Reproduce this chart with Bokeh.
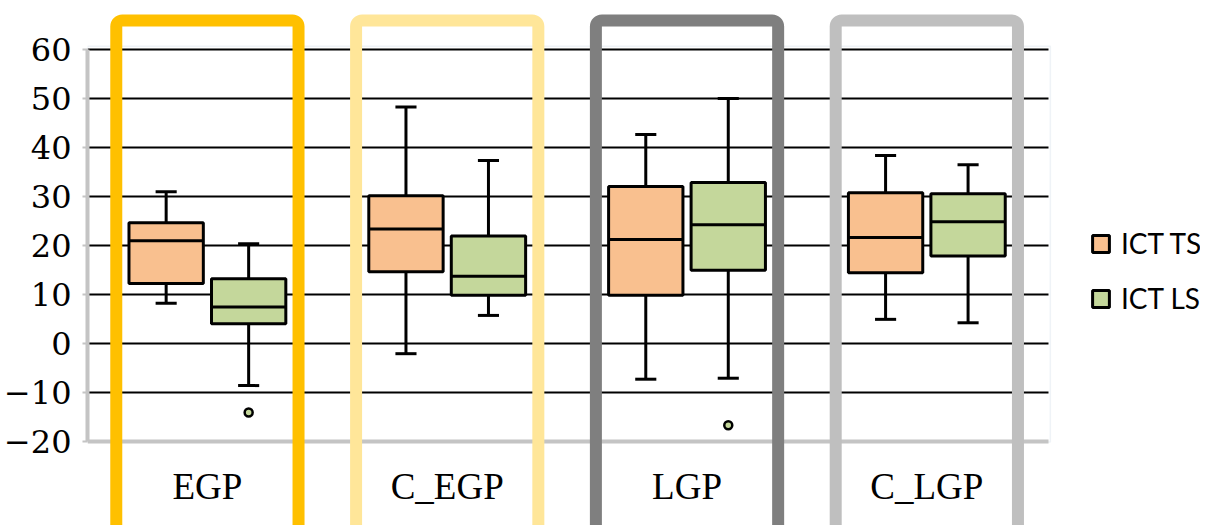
from bokeh.plotting import figure
from bokeh.models import (Range1d, ColumnDataSource, FixedTicker,
                          BoxAnnotation, Legend, LegendItem)
from bokeh.transform import dodge
from bokeh.embed import file_html
from bokeh.resources import INLINE

# ---- data ----
categories = ["EGP", "C_EGP", "LGP", "C_LGP"]
series_names = ["ICT TS", "ICT LS"]

ts_whisker_high = [31.0, 48.3, 42.7, 38.4]
ts_q3 = [24.7, 30.2, 32.1, 30.8]
ts_median = [21.0, 23.4, 21.3, 21.7]
ts_q1 = [12.3, 14.7, 9.9, 14.5]
ts_whisker_low = [8.3, -2.0, -7.2, 5.0]

ls_whisker_high = [20.4, 37.4, 50.0, 36.5]
ls_q3 = [13.3, 22.0, 32.9, 30.6]
ls_median = [7.5, 13.8, 24.3, 24.9]
ls_q1 = [4.1, 9.9, 15.0, 17.9]
ls_whisker_low = [-8.5, 5.8, -7.0, 4.3]

ls_outlier_cats = ["EGP", "LGP"]
ls_outlier_vals = [-14.0, -16.6]

y_ticks = [-20, -10, 0, 10, 20, 30, 40, 50, 60]
highlight_colors = ["#FFC000", "#FFE699", "#7F7F7F", "#BFBFBF"]
series_colors = ["#F9C08F", "#C4D79B"]

# categorical slots: category i is centred at i + 0.5
cat_pos = {c: i + 0.5 for i, c in enumerate(categories)}
n_cat = len(categories)

# ---- figure ----
p = figure(x_range=Range1d(0, 4.6412), y_range=Range1d(-37.02, 69.99),
           width=1200, height=525, output_backend="svg", toolbar_location=None,
           min_border_left=78, min_border_right=0, min_border_top=0,
           min_border_bottom=0)
p.background_fill_color = "white"
p.border_fill_color = "white"
p.outline_line_color = None

p.xgrid.grid_line_color = None
p.ygrid.ticker = FixedTicker(ticks=[t for t in y_ticks if t > -20])
p.ygrid.grid_line_color = "black"
p.ygrid.grid_line_width = 2
p.ygrid.cross_bounds = (0, n_cat + 0.008)

p.yaxis.ticker = FixedTicker(ticks=y_ticks)
p.yaxis.bounds = (-20, 60)
p.yaxis.axis_line_color = "#C4C4C4"
p.yaxis.axis_line_width = 4
p.yaxis.major_tick_line_color = "#C4C4C4"
p.yaxis.major_tick_line_width = 2
p.yaxis.major_tick_out = 5
p.yaxis.major_tick_in = 0
p.yaxis.minor_tick_line_color = None
p.yaxis.major_label_text_font = "DejaVu Serif"
p.yaxis.major_label_text_font_size = "32px"
p.yaxis.major_label_text_color = "black"
p.yaxis.major_label_standoff = 11

p.xaxis.fixed_location = -20
p.xaxis.bounds = (0, n_cat + 0.008)
p.xaxis.ticker = FixedTicker(ticks=list(cat_pos.values()))
p.xaxis.major_label_overrides = {v: k for k, v in cat_pos.items()}
p.xaxis.axis_line_color = "#C4C4C4"
p.xaxis.axis_line_width = 4
p.xaxis.major_tick_line_color = None
p.xaxis.minor_tick_line_color = None
p.xaxis.major_tick_out = 0
p.xaxis.major_label_text_font = "Liberation Serif"
p.xaxis.major_label_text_font_size = "37px"
p.xaxis.major_label_text_color = "black"
p.xaxis.major_label_standoff = 24

# thin plot-area border
p.add_layout(BoxAnnotation(left=0, right=n_cat + 0.015, bottom=-20, top=60.67, fill_alpha=0,
                           line_color="#C9D6E6", line_width=1.5, level="underlay"))

box_w = 0.31
cap_w = 0.088
offsets = [-0.172, 0.172]

series_data = [
    (ts_whisker_high, ts_q3, ts_median, ts_q1, ts_whisker_low),
    (ls_whisker_high, ls_q3, ls_median, ls_q1, ls_whisker_low),
]

box_renderers = []
for (whi, q3, med, q1, wlo), off, color in zip(series_data, offsets, series_colors):
    src = ColumnDataSource(dict(cat=categories, x=[cat_pos[c] for c in categories],
                                whi=whi, q3=q3, med=med, q1=q1, wlo=wlo))
    xc = dodge("x", off)
    xl = dodge("x", off - cap_w / 2)
    xr = dodge("x", off + cap_w / 2)
    bl = dodge("x", off - box_w / 2)
    br = dodge("x", off + box_w / 2)
    p.segment(x0=xc, y0="q3", x1=xc, y1="whi", source=src, line_color="black", line_width=3)
    p.segment(x0=xc, y0="q1", x1=xc, y1="wlo", source=src, line_color="black", line_width=3)
    p.segment(x0=xl, y0="whi", x1=xr, y1="whi", source=src, line_color="black", line_width=3)
    p.segment(x0=xl, y0="wlo", x1=xr, y1="wlo", source=src, line_color="black", line_width=3)
    r = p.vbar(x=xc, width=box_w, bottom="q1", top="q3", source=src,
               fill_color=color, line_color="black", line_width=3)
    p.segment(x0=bl, y0="med", x1=br, y1="med", source=src, line_color="black", line_width=3)
    box_renderers.append(r)

out_src = ColumnDataSource(dict(cat=ls_outlier_cats, x=[cat_pos[c] for c in ls_outlier_cats],
                                val=ls_outlier_vals))
p.scatter(x=dodge("x", offsets[1]), y="val", source=out_src,
          marker="circle", size=8, fill_color=series_colors[1], line_color="black",
          line_width=2.5)

# highlight frames around each group
for c, col in zip(categories, highlight_colors):
    p.add_layout(BoxAnnotation(left=cat_pos[c] - 0.38, right=cat_pos[c] + 0.38,
                               top=65.9, bottom=-45,
                               fill_alpha=0, line_color=col, line_width=12,
                               line_alpha=1, border_radius=6))

legend = Legend(items=[LegendItem(label=n, renderers=[r]) for n, r in zip(series_names, box_renderers)],
                location=(1003, 210), padding=0, margin=0,
                border_line_color=None, background_fill_alpha=0,
                label_text_font="Lato", label_text_font_size="28px",
                label_text_color="black",
                label_standoff=10, glyph_width=21, glyph_height=21, spacing=21)
p.add_layout(legend)

open("out.html", "w").write(file_html(p, INLINE))
